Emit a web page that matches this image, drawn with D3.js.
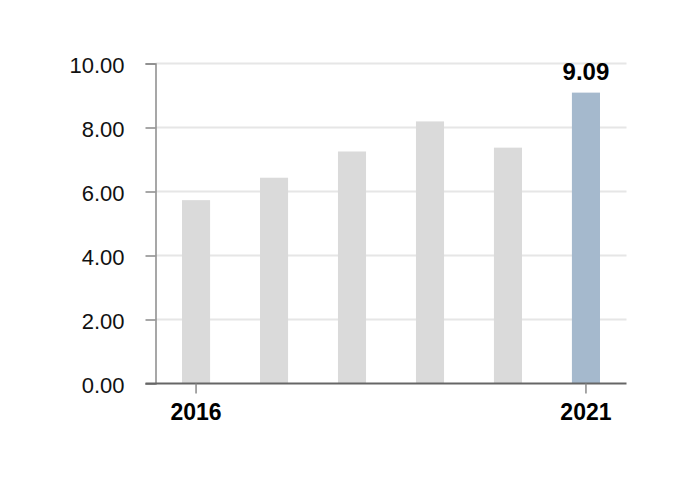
<!DOCTYPE html>
<html>
<head>
<meta charset="utf-8">
<script src="https://cdn.jsdelivr.net/npm/d3@7"></script>
<style>
  html, body { margin: 0; padding: 0; background: #fff; }
  svg { display: block; }
</style>
</head>
<body>
<svg id="chart" width="690" height="490"></svg>
<script>
const years = ["2016", "2017", "2018", "2019", "2020", "2021"];
const values = [5.73, 6.43, 7.25, 8.19, 7.37, 9.09];
const yTicks = [0, 2, 4, 6, 8, 10];
const xTickLabels = ["2016", "2021"];
const highlightYear = "2021";

const svg = d3.select("#chart");
const margin = { left: 155.5, top: 63.5, right: 63.5, bottom: 106.5 };
const W = 690, H = 490;
const iw = W - margin.left - margin.right;
const ih = H - margin.top - margin.bottom;
const g = svg.append("g").attr("transform", `translate(${margin.left},${margin.top})`);

const x = d3.scaleBand().domain(years).range([0, iw]).paddingInner(0.64).paddingOuter(0.34);
const y = d3.scaleLinear().domain([0, 10]).range([ih, 0]);

// gridlines
g.append("g").selectAll("line").data(yTicks.filter(d => d > 0)).join("line")
  .attr("x1", 0).attr("x2", iw)
  .attr("y1", d => y(d)).attr("y2", d => y(d))
  .attr("stroke", "#e6e6e6").attr("stroke-width", 2);

// bars
g.append("g").selectAll("rect").data(years).join("rect")
  .attr("x", d => x(d))
  .attr("width", x.bandwidth())
  .attr("y", (d, i) => y(values[i]))
  .attr("height", (d, i) => ih - y(values[i]))
  .attr("fill", d => d === highlightYear ? "#a5b9cd" : "#dadada");

// y axis
const yAxis = g.append("g")
  .call(d3.axisLeft(y).tickValues(yTicks).tickFormat(d3.format(".2f")).tickSize(10).tickPadding(21));
yAxis.select(".domain").attr("stroke", "#8a8a8a").attr("stroke-width", 1.5);
yAxis.selectAll(".tick line").attr("stroke", "#8a8a8a").attr("stroke-width", 1.5);
yAxis.selectAll("text").attr("font-family", "Liberation Sans, Arial, sans-serif")
  .attr("font-size", 22).attr("fill", "#111").attr("dy", "0.43em");

// x axis
const xAxis = g.append("g").attr("transform", `translate(0,${ih})`)
  .call(d3.axisBottom(x).tickValues(xTickLabels).tickSize(10).tickPadding(10).tickSizeOuter(0));
xAxis.select(".domain").attr("stroke", "#666").attr("stroke-width", 2)
  .attr("d", `M-10,0H${iw}`);
xAxis.selectAll(".tick line").attr("stroke", "#8a8a8a").attr("stroke-width", 1.5);
xAxis.selectAll("text").attr("font-family", "Liberation Sans, Arial, sans-serif")
  .attr("font-size", 23).attr("font-weight", "bold").attr("fill", "#000");

// value label on highlighted bar
const hi = years.indexOf(highlightYear);
g.append("text")
  .attr("x", x(highlightYear) + x.bandwidth() / 2)
  .attr("y", y(values[hi]) - 13)
  .attr("text-anchor", "middle")
  .attr("font-family", "Liberation Sans, Arial, sans-serif")
  .attr("font-size", 24).attr("font-weight", "bold").attr("fill", "#000")
  .text(d3.format(".2f")(values[hi]));
</script>
</body>
</html>
